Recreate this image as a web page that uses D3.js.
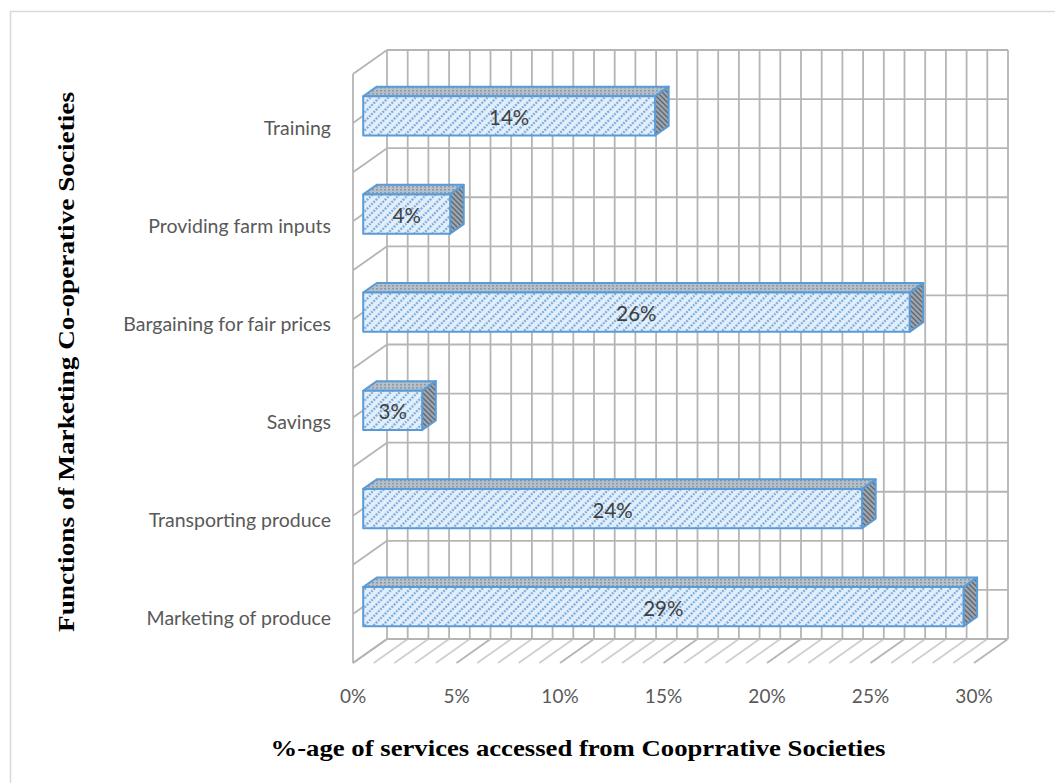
<!DOCTYPE html>
<html><head><meta charset="utf-8">
<script src="https://cdn.jsdelivr.net/npm/d3@7"></script>
<style>
html,body{margin:0;padding:0;background:#fff;}
svg{display:block;}
</style></head>
<body>
<svg id="chart" width="1055" height="783"></svg>
<script>
// Data (categories listed top to bottom as drawn)
const categories = ["Training", "Providing farm inputs", "Bargaining for fair prices", "Savings", "Transporting produce", "Marketing of produce"];
const values = [14.1, 4.2, 26.4, 2.85, 24.1, 29.0];
const tickValues = [0, 5, 10, 15, 20, 25, 30];
const xTitle = "%-age of services accessed from Cooprrative Societies";
const yTitle = "Functions of Marketing Co-operative Societies";

const svg = d3.select("#chart");
const W = 1055, H = 783;
svg.append("rect").attr("width", W).attr("height", H).attr("fill", "#fff");
svg.append("rect").attr("x", 10.5).attr("y", 11.5).attr("width", 1100).attr("height", 900)
  .attr("fill", "none").attr("stroke", "#d9d9d9").attr("stroke-width", 1.5);

// 3D geometry
const DX = 34, DY = -24;           // full depth offset
const x = d3.scaleLinear().domain([0, 30]).range([353, 974]);
const y = d3.scaleBand().domain(categories).range([74, 663]).paddingInner(0.6).paddingOuter(0.3);
const yEdge = d3.scaleLinear().domain([0, categories.length]).range([74, 663]);
const off = (p, d) => [p[0] + DX * d, p[1] + DY * d];

const defs = svg.append("defs");
// front pattern
const pf = defs.append("pattern").attr("id", "pFront").attr("patternUnits", "userSpaceOnUse")
  .attr("width", 9).attr("height", 9);
pf.append("rect").attr("width", 9).attr("height", 9).attr("fill", "#e2eefa");
pf.append("path").attr("d", "M-2,2 L2,-2 M0,9 L9,0 M7,11 L11,7")
  .attr("stroke", "#7fb0e0").attr("stroke-width", 2.4).attr("stroke-dasharray", "2,1.2");
// top pattern
const pt = defs.append("pattern").attr("id", "pTop").attr("patternUnits", "userSpaceOnUse")
  .attr("width", 4).attr("height", 3);
pt.append("rect").attr("width", 4).attr("height", 3).attr("fill", "#b6c0cb");
pt.append("rect").attr("x", 0).attr("y", 0).attr("width", 2).attr("height", 1.5).attr("fill", "#8d99a7");
// side pattern
const ps = defs.append("pattern").attr("id", "pSide").attr("patternUnits", "userSpaceOnUse")
  .attr("width", 5).attr("height", 5);
ps.append("rect").attr("width", 5).attr("height", 5).attr("fill", "#9ea6b0");
ps.append("path").attr("d", "M-1,-1 L6,6 M-1,4 L1,6 M4,-1 L6,1")
  .attr("stroke", "#5f6670").attr("stroke-width", 1.3);

const grid = svg.append("g").attr("stroke", "#b5b5b5").attr("stroke-width", 1.8).attr("fill", "none");
const line = d3.line();
const yTop = 74, yBot = 663;
// back wall vertical gridlines (each 1%) and floor diagonals
d3.range(0, 31).forEach(v => {
  const a = off([x(v), yTop], 1), b = off([x(v), yBot], 1);
  grid.append("path").attr("d", line([a, b]));
  grid.append("path").attr("d", line([b, [x(v), yBot]]))
    .attr("stroke", v % 5 === 0 ? "#b5b5b5" : "#cfcfcf");
});
// back wall horizontal lines + left wall diagonals at each half category
d3.range(0, categories.length * 2 + 1).forEach(j => {
  const yy = yEdge(j / 2);
  const a = off([x(0), yy], 1), b = off([x(30), yy], 1);
  grid.append("path").attr("d", line([a, b]));
  grid.append("path").attr("d", line([[x(0), yy], a]));
});
// left wall front edge
grid.append("path").attr("d", line([[x(0), yTop], [x(0), yBot]]));

// bars
const d0 = 0.3, d1 = 0.7;
const bars = svg.append("g");
categories.forEach((c, i) => {
  const v = values[i];
  const yt = y(c), yb = y(c) + y.bandwidth();
  const ftl = off([x(0), yt], d0), ftr = off([x(v), yt], d0);
  const fbr = off([x(v), yb], d0), fbl = off([x(0), yb], d0);
  const btl = off([x(0), yt], d1), btr = off([x(v), yt], d1), bbr = off([x(v), yb], d1);
  const g = bars.append("g").attr("stroke", "#5b9bd5").attr("stroke-width", 2).attr("stroke-linejoin", "round");
  g.append("path").attr("d", line([ftl, ftr, btr, btl]) + "Z").attr("fill", "url(#pTop)");
  g.append("path").attr("d", line([ftr, btr, bbr, fbr]) + "Z").attr("fill", "url(#pSide)");
  g.append("path").attr("d", line([ftl, ftr, fbr, fbl]) + "Z").attr("fill", "url(#pFront)");
  bars.append("text").attr("x", (ftl[0] + ftr[0]) / 2).attr("y", (ftl[1] + fbl[1]) / 2 + 1)
    .attr("text-anchor", "middle").attr("dominant-baseline", "central")
    .attr("font-family", "Lato, 'Open Sans', sans-serif").attr("font-size", 20.5).attr("fill", "#404040")
    .text(Math.round(v) + "%");
});

// category labels
svg.append("g").selectAll("text").data(categories).join("text")
  .attr("x", 331).attr("y", d => y(d) + y.bandwidth() / 2 + 4)
  .attr("text-anchor", "end").attr("dominant-baseline", "central")
  .attr("font-family", "Lato, 'Open Sans', sans-serif").attr("font-size", 19.5).attr("fill", "#595959")
  .text(d => d);

// value tick labels
svg.append("g").selectAll("text").data(tickValues).join("text")
  .attr("x", d => x(d)).attr("y", 695)
  .attr("text-anchor", "middle").attr("dominant-baseline", "central")
  .attr("font-family", "Lato, 'Open Sans', sans-serif").attr("font-size", 19).attr("fill", "#595959")
  .text(d => d + "%");

// titles
svg.append("text").attr("x", 578).attr("y", 748).attr("text-anchor", "middle").attr("dominant-baseline", "central")
  .attr("font-family", "'Liberation Serif', 'Times New Roman', serif").attr("font-weight", "bold")
  .attr("font-size", 24).attr("fill", "#000")
  .attr("textLength", 615).attr("lengthAdjust", "spacingAndGlyphs").text(xTitle);
svg.append("text").attr("transform", "translate(66,362) rotate(-90)").attr("text-anchor", "middle")
  .attr("dominant-baseline", "central")
  .attr("font-family", "'Liberation Serif', 'Times New Roman', serif").attr("font-weight", "bold")
  .attr("font-size", 24).attr("fill", "#000")
  .attr("textLength", 540).attr("lengthAdjust", "spacingAndGlyphs").text(yTitle);
</script>
</body></html>
